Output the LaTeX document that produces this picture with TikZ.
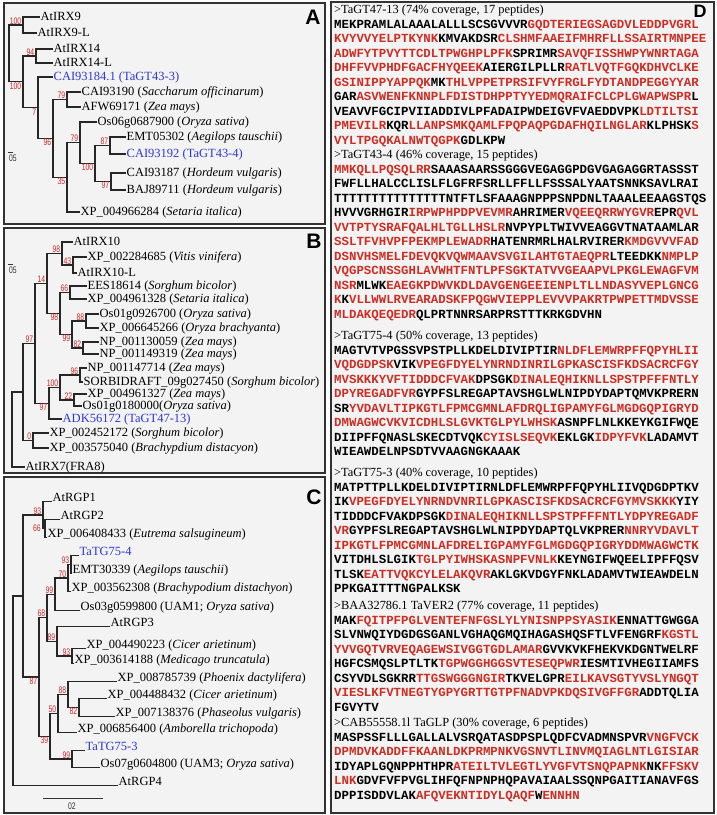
\documentclass[tikz,border=0pt]{standalone}
\usepackage{fontspec}
\setmainfont{Liberation Serif}
\newfontfamily\seqfont{Liberation Mono}
\newfontfamily\labfont{Liberation Sans}
\newfontfamily\bootfont[FakeStretch=0.72]{Liberation Sans}

\definecolor{bootred}{RGB}{205,40,40}
\definecolor{pepred}{RGB}{205,45,35}
\definecolor{taxblue}{RGB}{45,55,215}
\definecolor{panelbg}{RGB}{243,243,243}
\definecolor{framegray}{RGB}{50,50,50}

% red = peptides found, header lines in serif
\newcommand{\pep}[1]{\textcolor{pepred}{#1}}
\newcommand{\hdr}[1]{{\rmfamily\mdseries #1}}

\begin{document}
\begin{tikzpicture}[
  x=1pt, y=-1pt,
  panel/.style={draw=framegray, line width=1.3pt, fill=panelbg},
  tag/.style={font=\labfont\bfseries\fontsize{21}{21}\selectfont, inner sep=0pt},
  leaf/.style={anchor=west, inner sep=0.5pt, font=\fontsize{12.5}{14}\selectfont,
    text height=8.5pt, text depth=2.5pt},
  leafc/.style={leaf, anchor=base west},
  ours/.style={text=taxblue},
  branch/.style={line width=1.1pt, draw=black!85},
  boot/.style={font=\bootfont\fontsize{9.5}{9.5}\selectfont, text=bootred, inner sep=0.6pt},
  bootup/.style={boot, anchor=south east, xshift=-1pt},
  bootdown/.style={boot, anchor=north east, xshift=-1pt},
  scalelab/.style={font=\bootfont\fontsize{9.5}{9.5}\selectfont, text=black!80, inner sep=0.5pt},
  scalebar/.style={line width=0.9pt, draw=black!80},
  seqblock/.style={anchor=north west, inner sep=0pt, align=left,
    font=\seqfont\bfseries\fontsize{12.4}{14.5}\selectfont},
]
  \useasboundingbox (0,0) rectangle (717,815);

  % Panel frames
  \draw[panel] (4,3) rectangle (325,224);
  \draw[panel] (4,228) rectangle (325,473);
  \draw[panel] (4,477) rectangle (325,813);
  \draw[panel] (331,2) rectangle (714,813);
  \node[tag] (tagA) at (313,17.5) {A};
  \node[tag] (tagB) at (314,241) {B};
  \node[tag] (tagC) at (314,497) {C};
  \node[tag, font=\labfont\bfseries\fontsize{18}{18}\selectfont] (tagD) at (700,11) {D};

  % ---------------- Panel A: GT43 tree ----------------
  \node[leaf] (a1) at (40,17) {AtIRX9};
  \node[leaf] (a2) at (37,33) {AtIRX9-L};
  \node[leaf] (a3) at (53,49) {AtIRX14};
  \node[leaf] (a4) at (53,63) {AtIRX14-L};
  \node[leaf, ours] (a5) at (53,77) {CAI93184.1 (TaGT43-3)};
  \node[leaf] (a6) at (81,92) {CAI93190 (\textit{Saccharum officinarum})};
  \node[leaf] (a7) at (81,107) {AFW69171 (\textit{Zea mays})};
  \node[leaf] (a8) at (97,122) {Os06g0687900 (\textit{Oryza sativa})};
  \node[leaf] (a9) at (126,137) {EMT05302 (\textit{Aegilops tauschii})};
  \node[leaf, ours] (a10) at (126,154) {CAI93192 (TaGT43-4)};
  \node[leaf] (a11) at (126,173) {CAI93187 (\textit{Hordeum vulgaris})};
  \node[leaf] (a12) at (126,190) {BAJ89711 (\textit{Hordeum vulgaris})};
  \node[leaf] (a13) at (80,212) {XP\_004966284 (\textit{Setaria italica})};

  \coordinate (ar) at (9,53.4);
  \coordinate (an1) at (23,25);
  \coordinate (an2) at (23,81.9);
  \coordinate (an3) at (36,56);
  \coordinate (an4) at (38,107.7);
  \coordinate (an5) at (53,138.4);
  \coordinate (an6) at (67,99.5);
  \coordinate (an7) at (67,177.4);
  \coordinate (an8) at (80,142.75);
  \coordinate (an9) at (95,163.5);
  \coordinate (an10) at (110,145.5);
  \coordinate (an11) at (111,181.5);

  \draw[branch] (ar) |- (an1) (ar) |- (an2);
  \draw[branch] (an1) |- (a1.west) (an1) |- (a2.west);
  \draw[branch] (an2) |- (an3) (an2) |- (an4);
  \draw[branch] (an3) |- (a3.west) (an3) |- (a4.west);
  \draw[branch] (an4) |- (a5.west) (an4) |- (an5);
  \draw[branch] (an5) |- (an6) (an5) |- (an7);
  \draw[branch] (an6) |- (a6.west) (an6) |- (a7.west);
  \draw[branch] (an7) |- (an8) (an7) |- (a13.west);
  \draw[branch] (an8) |- (a8.west) (an8) |- (an9);
  \draw[branch] (an9) |- (an10) (an9) |- (an11);
  \draw[branch] (an10) |- (a9.west) (an10) |- (a10.west);
  \draw[branch] (an11) |- (a11.west) (an11) |- (a12.west);

  \node[bootup] (ban1) at (an1) {100};
  \node[bootdown] (ban2) at (an2) {100};
  \node[bootup] (ban3) at (an3) {94};
  \node[bootdown] (ban4) at (an4) {7};
  \node[bootdown] (ban5) at (an5) {96};
  \node[bootup] (ban6) at (an6) {79};
  \node[bootdown] (ban7) at (an7) {35};
  \node[bootup] (ban8) at (an8) {79};
  \node[bootdown] (ban9) at (an9) {100};
  \node[bootup] (ban10) at (an10) {87};
  \node[bootdown] (ban11) at (an11) {97};

  \node[scalelab] (scaleA) at (13,158) {05};
  \draw[scalebar] ([yshift=1.5pt]scaleA.north west) -- ++(4.5,0);

  % ---------------- Panel B: GT47 tree ----------------
  \node[leaf] (b1) at (73,242) {AtIRX10};
  \node[leaf] (b2) at (87,257) {XP\_002284685 (\textit{Vitis vinifera})};
  \node[leaf] (b3) at (77,273) {AtIRX10-L};
  \node[leaf] (b4) at (87,286) {EES18614 (\textit{Sorghum bicolor})};
  \node[leaf] (b5) at (87,299) {XP\_004961328 (\textit{Setaria italica})};
  \node[leaf] (b6) at (99,314) {Os01g0926700 (\textit{Oryza sativa})};
  \node[leaf] (b7) at (99,328) {XP\_006645266 (\textit{Oryza brachyanta})};
  \node[leaf] (b8) at (99,342) {NP\_001130059 (\textit{Zea mays})};
  \node[leaf] (b9) at (99,354) {NP\_001149319 (\textit{Zea mays})};
  \node[leaf] (b10) at (87,368) {NP\_001147714 (\textit{Zea mays})};
  \node[leaf] (b11) at (83,382) {SORBIDRAFT\_09g027450 (\textit{Sorghum bicolor})};
  \node[leaf] (b12) at (87,394) {XP\_004961327 (\textit{Zea mays})};
  \node[leaf] (b13) at (82,406) {Os01g0180000(\textit{Oryza sativa})};
  \node[leaf, ours] (b14) at (62,419) {ADK56172 (TaGT47-13)};
  \node[leaf] (b15) at (49,433) {XP\_002452172 (\textit{Sorghum bicolor})};
  \node[leaf] (b16) at (49,448) {XP\_003575040 (\textit{Brachypdium distacyon})};
  \node[leaf] (b17) at (25,467) {AtIRX7(FRA8)};

  \coordinate (rB) at (12,429.5);
  \coordinate (nA) at (23,392);
  \coordinate (nB) at (35,343.4);
  \coordinate (n14) at (47,283.5);
  \coordinate (n98a) at (62,253.5);
  \coordinate (n43) at (73,265);
  \coordinate (nX) at (60,313.5);
  \coordinate (n66) at (70,292.5);
  \coordinate (n99) at (72,334.5);
  \coordinate (n88) at (86,321);
  \coordinate (n82) at (83,348);
  \coordinate (nE) at (49,403.25);
  \coordinate (nF) at (60,387.5);
  \coordinate (n96) at (80,375);
  \coordinate (n22) at (74,400);
  \coordinate (n0) at (33,440.5);

  \draw[branch] (rB) |- (nA) (rB) |- (b17.west);
  \draw[branch] (nA) |- (nB) (nA) |- (n0);
  \draw[branch] (nB) |- (n14) (nB) |- (nE);
  \draw[branch] (n14) |- (n98a) (n14) |- (nX);
  \draw[branch] (n98a) |- (b1.west) (n98a) |- (n43);
  \draw[branch] (n43) |- (b2.west) (n43) |- (b3.west);
  \draw[branch] (nX) |- (n66) (nX) |- (n99);
  \draw[branch] (n66) |- (b4.west) (n66) |- (b5.west);
  \draw[branch] (n99) |- (n88) (n99) |- (n82);
  \draw[branch] (n88) |- (b6.west) (n88) |- (b7.west);
  \draw[branch] (n82) |- (b8.west) (n82) |- (b9.west);
  \draw[branch] (nE) |- (nF) (nE) |- (b14.west);
  \draw[branch] (nF) |- (n96) (nF) |- (n22);
  \draw[branch] (n96) |- (b10.west) (n96) |- (b11.west);
  \draw[branch] (n22) |- (b12.west) (n22) |- (b13.west);
  \draw[branch] (n0) |- (b15.west) (n0) |- (b16.west);

  \node[bootup] (bnB) at (nB) {97};
  \node[bootup] (bn14) at (n14) {14};
  \node[bootup] (bn98a) at (n98a) {98};
  \node[bootup] (bn43) at (n43) {43};
  \node[bootup] (bn66) at (n66) {66};
  \node[bootdown] (bnX) at (nX) {98};
  \node[bootdown] (bn99) at (n99) {99};
  \node[bootup] (bn88) at (n88) {88};
  \node[bootup] (bn82) at (n82) {82};
  \node[bootup] (bn96) at (n96) {96};
  \node[bootup] (bn22) at (n22) {22};
  \node[bootup] (bnF) at (nF) {100};
  \node[bootdown] (bnE) at (nE) {97};
  \node[bootup] (bn0) at (n0) {0};

  \node[scalelab] (scaleB) at (13,270.5) {05};
  \draw[scalebar] ([yshift=1.5pt]scaleB.north west) -- ++(4.5,0);

  % ---------------- Panel C: GT75 tree ----------------
  \node[leafc] (c1) at (52,501.5) {AtRGP1};
  \node[leafc] (c2) at (60,519.5) {AtRGP2};
  \node[leafc] (c3) at (47,537.5) {XP\_006408433 (\textit{Eutrema salsugineum})};
  \node[leafc, ours] (c4) at (79,555.5) {TaTG75-4};
  \node[leafc] (c5) at (72,573.5) {EMT30339 (\textit{Aegilops tauschii})};
  \node[leafc] (c6) at (71,591.5) {XP\_003562308 (\textit{Brachypodium distachyon})};
  \node[leafc] (c7) at (80,610.5) {Os03g0599800 (UAM1; \textit{Oryza sativa})};
  \node[leafc] (c8) at (110,626.5) {AtRGP3};
  \node[leafc] (c9) at (86,648.5) {XP\_004490223 (\textit{Cicer arietinum})};
  \node[leafc] (c10) at (74,663.5) {XP\_003614188 (\textit{Medicago truncatula})};
  \node[leafc] (c11) at (117,681.5) {XP\_008785739 (\textit{Phoenix dactylifera})};
  \node[leafc] (c12) at (107,698.5) {XP\_004488432 (\textit{Cicer arietinum})};
  \node[leafc] (c13) at (115,716.5) {XP\_007138376 (\textit{Phaseolus vulgaris})};
  \node[leafc] (c14) at (77,732.5) {XP\_006856400 (\textit{Amborella trichopoda})};
  \node[leafc, ours] (c15) at (85,750.5) {TaTG75-3};
  \node[leafc] (c16) at (100,767.5) {Os07g0604800 (UAM3; \textit{Oryza sativa})};
  \node[leafc] (c17) at (118,785.5) {AtRGP4};

  \coordinate (rC) at (13,690.75);
  \coordinate (cA) at (23,596);
  \coordinate (cB) at (43,515);
  \coordinate (cB2) at (45,528.5);
  \coordinate (c87) at (39,677);
  \coordinate (c68) at (47,617.75);
  \coordinate (c99) at (55,594.25);
  \coordinate (c70) at (68,578);
  \coordinate (c93) at (71,564.5);
  \coordinate (c89) at (57,641.25);
  \coordinate (c93b) at (72,656);
  \coordinate (c39) at (50,736.25);
  \coordinate (c50) at (58,713.5);
  \coordinate (c88) at (68,694.5);
  \coordinate (c82) at (79,707.5);
  \coordinate (c99b) at (72,759);

  \draw[branch] (rC) |- (cA) (rC) |- (c17.base west);
  \draw[branch] (cA) |- (cB) (cA) |- (c87);
  \draw[branch] (cB) |- (c1.base west) (cB) |- (cB2);
  \draw[branch] (cB2) |- (c2.base west) (cB2) |- (c3.base west);
  \draw[branch] (c87) |- (c68) (c87) |- (c39);
  \draw[branch] (c68) |- (c99) (c68) |- (c89);
  \draw[branch] (c99) |- (c70) (c99) |- (c7.base west);
  \draw[branch] (c70) |- (c93) (c70) |- (c6.base west);
  \draw[branch] (c93) |- (c4.base west) (c93) |- (c5.base west);
  \draw[branch] (c89) |- (c8.base west) (c89) |- (c93b);
  \draw[branch] (c93b) |- (c9.base west) (c93b) |- (c10.base west);
  \draw[branch] (c39) |- (c50) (c39) |- (c99b);
  \draw[branch] (c50) |- (c88) (c50) |- (c14.base west);
  \draw[branch] (c88) |- (c11.base west) (c88) |- (c82);
  \draw[branch] (c82) |- (c12.base west) (c82) |- (c13.base west);
  \draw[branch] (c99b) |- (c15.base west) (c99b) |- (c16.base west);

  \node[bootup] (bcB) at (cB) {93};
  \node[boot, anchor=east, xshift=-1.5pt] (bcB2) at (cB |- cB2) {66};
  \node[bootup] (bc93) at (c93) {93};
  \node[bootup] (bc70) at (c70) {70};
  \node[bootup] (bc99) at (c99) {99};
  \node[bootup] (bc68) at (c68) {68};
  \node[bootup] (bc89) at (c89) {89};
  \node[bootup] (bc93b) at (c93b) {93};
  \node[bootdown] (bc87) at (c87) {87};
  \node[bootup] (bc88) at (c88) {88};
  \node[bootdown] (bc82) at (c82) {82};
  \node[bootup] (bc50) at (c50) {50};
  \node[bootdown] (bc39) at (c39) {39};
  \node[bootup] (bc99b) at (c99b) {99};

  \coordinate (barL) at (43,798);
  \coordinate (barR) at (103,798);
  \draw[scalebar] (barL) -- (barR);
  \node[scalelab] (scaleC) at (72,806) {02};

  % ---------------- Panel D: peptide coverage ----------------
  \node[seqblock] (gt4713) at (334,5) {\hdr{>TaGT47-13 (74\% coverage, 17 peptides)}\\
MEKPRAMLALAAALALLLSCSGVVVR\pep{GQDTERIEGSAGDVLEDDPVGRL}\\
\pep{KVYVVYELPTKYNK}KMVAKDSR\pep{CLSHMFAAEIFMHRFLLSSAIRTMNPEE}\\
\pep{ADWFYTPVYTTCDLTPWGHPLPFK}SPRIMR\pep{SAVQFISSHWPYWNRTAGA}\\
\pep{DHFFVVPHDFGACFHYQEEK}AIERGILPLLR\pep{RATLVQTFGQKDHVCLKE}\\
\pep{GSINIPPYAPPQK}MK\pep{THLVPPETPRSIFVYFRGLFYDTANDPEGGYYAR}\\
GAR\pep{ASVWENFKNNPLFDISTDHPPTYYEDMQRAIFCLCPLGWAPWSPR}L\\
VEAVVFGCIPVIIADDIVLPFADAIPWDEIGVFVAEDDVPK\pep{LDTILTSI}\\
\pep{PMEVILR}KQR\pep{LLANPSMKQAMLFPQPAQPGDAFHQILNGLAR}KLPHSK\pep{S}\\
\pep{VYLTPGQKALNWTQGPK}GDLKPW};

  \node[seqblock] (gt434) at (334,150) {\hdr{>TaGT43-4 (46\% coverage, 15 peptides)}\\
\pep{MMKQLLPQSQLRR}SAAASAARSSGGGVEGAGGPDGVGAGAGGRTASSST\\
FWFLLHALCCLISLFLGFRFSRLLFFLLFSSSALYAATSNNKSAVLRAI\\
TTTTTTTTTTTTTTTNTFTLSFAAAGNPPPSNPDNLTAAALEEAAGSTQS\\
HVVVGRHGIR\pep{IRPWPHPDPVEVMR}AHRIMER\pep{VQEEQRRWYGVR}EPR\pep{QVL}\\
\pep{VVTPTYSRAFQALHLTGLLHSLR}NVPYPLTWIVVEAGGVTNATAAMLAR\\
\pep{SSLTFVHVPFPEKMPLEWADR}HATENRMRLHALRVIRER\pep{KMDGVVVFAD}\\
\pep{DSNVHSMELFDEVQKVQWMAAVSVGILAHTGTAEQPR}LTEEDKK\pep{NMPLP}\\
\pep{VQGPSCNSSGHLAVWHTFNTLPFSGKTATVVGEAAPVLPKGLEWAGFVM}\\
\pep{NSR}MLWK\pep{EAEGKPDWVKDLDAVGENGEEIENPLTLLNDASYVEPLGNCG}\\
\pep{K}K\pep{VLLWWLRVEARADSKFPQGWVIEPPLEVVVPAKRTPWPETTMDVSSE}\\
\pep{MLDAKQEQEDR}QLPRTNNRSARPRSTTTKRKGDVHN};

  \node[seqblock] (gt754) at (334,331) {\hdr{>TaGT75-4 (50\% coverage, 13 peptides)}\\
MAGTVTVPGSSVPSTPLLKDELDIVIPTIR\pep{NLDFLEMWRPFFQPYHLII}\\
\pep{VQDGDPSK}VIK\pep{VPEGFDYELYNRNDINRILGPKASCISFKDSACRCFGY}\\
\pep{MVSKKKYVFTIDDDCFVAK}DPSGK\pep{DINALEQHIKNLLSPSTPFFFNTLY}\\
\pep{DPYREGADFVR}GYPFSLREGAPTAVSHGLWLNIPDYDAPTQMVKPRERN\\
SR\pep{YVDAVLTIPKGTLFPMCGMNLAFDRQLIGPAMYFGLMGDGQPIGRYD}\\
\pep{DMWAGWCVKVICDHLSLGVKTGLPYLWHSK}ASNPFLNLKKEYKGIFWQE\\
DIIPFFQNASLSKECDTVQK\pep{CYISLSEQVK}EKLGK\pep{IDPYFVK}LADAMVT\\
WIEAWDELNPSDTVVAAGNGKAAAK};

  \node[seqblock] (gt753) at (334,468) {\hdr{>TaGT75-3 (40\% coverage, 10 peptides)}\\
MATPTTPLLKDELDIVIPTIRNLDFLEMWRPFFQPYHLIIVQDGDPTKV\\
IK\pep{VPEGFDYELYNRNDVNRILGPKASCISFKDSACRCFGYMVSKKK}YIY\\
TIDDDCFVAKDPSGK\pep{DINALEQHIKNLLSPSTPFFFNTLYDPYREGADF}\\
\pep{VR}GYPFSLREGAPTAVSHGLWLNIPDYDAPTQLVKPRER\pep{NNRYVDAVLT}\\
\pep{IPKGTLFPMCGMNLAFDRELIGPAMYFGLMGDGQPIGRYDDMWAGWCTK}\\
VITDHLSLGIK\pep{TGLPYIWHSKASNPFVNLK}KEYNGIFWQEELIPFFQSV\\
TLSK\pep{EATTVQKCYLELAKQVR}AKLGKVDGYFNKLADAMVTWIEAWDELN\\
PPKGAITTTNGPALKSK};

  \node[seqblock] (taver2) at (334,601) {\hdr{>BAA32786.1 TaVER2 (77\% coverage, 11 peptides)}\\
MAK\pep{FQITPFPGLVENTEFNFGSLYLYNISNPPSYASIK}ENNATTGWGGA\\
SLVNWQIYDGDGSGANLVGHAQGMQIHAGASHQSFTLVFENGRF\pep{KGSTL}\\
\pep{YVVGQTVRVEQAGEWSIVGGTGDLAMAR}GVVKVKFHEKVKDGNTWELRF\\
HGFCSMQSLPTLTK\pep{TGPWGGHGGSVTESEQPWR}IESMTIVHEGIIAMFS\\
CSYVDLSGKRR\pep{TTGSWGGGNGIR}TKVELGPR\pep{EILKAVSGTYVSLYNGQT}\\
\pep{VIESLKFVTNEGTYGPYGRTTGTPFNADVPKDQSIVGFFGR}ADDTQLIA\\
FGVYTV};

  \node[seqblock] (taglp) at (334,718) {\hdr{>CAB55558.1l TaGLP (30\% coverage, 6 peptides)}\\
MASPSSFLLLGALLALVSRQATASDPSPLQDFCVADMNSPVR\pep{VNGFVCK}\\
\pep{DPMDVKADDFFKAANLDKPRMPNKVGSNVTLINVMQIAGLNTLGISIAR}\\
IDYAPLGQNPPHTHPR\pep{ATEILTVLEGTLYVGFVTSNQPAPNK}NK\pep{FFSKV}\\
\pep{LNK}GDVFVFPVGLIHFQFNPNPHQPAVAIAALSSQNPGAITIANAVFGS\\
DPPISDDVLAK\pep{AFQVEKNTIDYLQAQF}W\pep{ENNHN}};
\end{tikzpicture}
\end{document}
